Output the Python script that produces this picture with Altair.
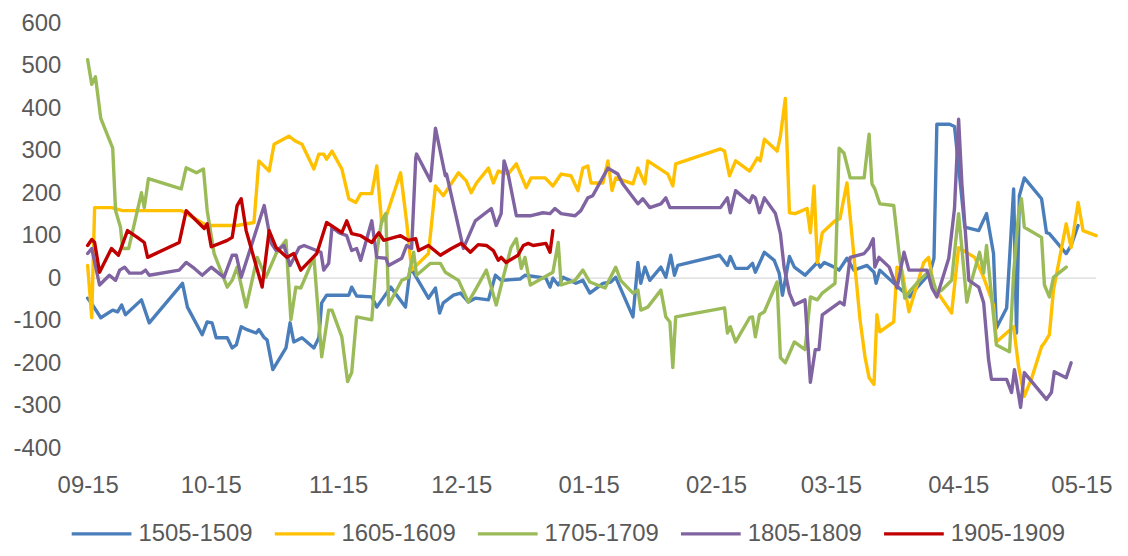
import altair as alt
import pandas as pd

SERIES = ["1505-1509", "1605-1609", "1705-1709", "1805-1809", "1905-1909"]
COLORS = ["#4a7ebb", "#ffc000", "#9bbb59", "#8064a2", "#c00000"]
WIDTHS = [3.4, 3.4, 3.4, 3.4, 5]
Y_TICKS = [-400, -300, -200, -100, 0, 100, 200, 300, 400, 500, 600]
X_TICK_MONTHS = [(2018, 9), (2018, 10), (2018, 11), (2018, 12), (2019, 1),
                 (2019, 2), (2019, 3), (2019, 4), (2019, 5)]

# (days after 09-15, value)
S1505 = [(0, -47), (1, -60), (3.2, -93), (6.1, -75), (7.3, -79), (8.3, -63), (9.2, -86),
         (13.1, -51), (15.0, -105), (23.1, -12), (24.3, -68), (27.9, -133), (29.1, -103),
         (30.3, -105), (31.3, -140), (34.0, -140), (35.2, -164), (36.2, -157), (37.4, -114),
         (38.8, -121), (41.0, -129), (41.7, -121), (43.0, -140), (43.7, -145), (45.1, -215),
         (48.3, -164), (49.3, -105), (50.2, -150), (52.2, -140), (55.1, -164), (56.3, -140),
         (57.0, -58), (58.2, -40), (63.6, -40), (64.3, -21), (65.5, -42), (69.2, -44),
         (70.4, -68), (73.8, -21), (77.4, -68), (78.6, 26), (83.0, -47), (84.7, -23),
         (85.7, -82), (86.6, -58), (89.1, -40), (90.8, -35), (92.7, -56), (94.4, -47),
         (97.6, -51), (99.3, 7), (100.7, -5), (105.3, -2), (106.5, 7), (111.6, 0),
         (112.6, -21), (113.3, 0), (114.6, -16), (115.8, 2), (118.9, -12), (120.6, -5),
         (122.3, -35), (125.5, -12), (127.4, -9), (128.6, 2), (132.8, -91), (134.0, 37),
         (134.7, -12), (135.7, 26), (136.9, -5), (139.6, 26), (140.8, 2), (142.0, 54),
         (142.9, 7), (143.7, 30), (153.9, 54), (155.8, 30), (156.5, 51), (157.8, 23),
         (160.7, 23), (161.9, 35), (162.6, 14), (164.8, 61), (167.2, 42), (168.4, 12),
         (169.2, -40), (170.9, 51), (172.1, 26), (174.7, 7), (177.7, 37), (178.4, 26),
         (179.4, 37), (181.8, 26), (183.0, 19), (184.9, 47), (186.6, 19), (189.8, 30),
         (191.5, 14), (192.0, -12), (192.9, 19), (197.6, -23), (200.2, -44), (201.9, -23),
         (205.1, 12), (206.1, 47), (206.8, 362), (209.9, 362), (211.1, 357), (213.6, 120),
         (217.0, 112), (218.9, 152), (220.6, 58), (221.3, -117), (223.8, -70), (225.5, 210),
         (226.2, -129), (226.9, 194), (228.1, 236), (232.3, 187), (233.5, 107), (234.2, 105),
         (238.3, 58), (239.5, 77), (241.2, 124)]

S1605 = [(0, 30), (1.0, -93), (1.7, 166), (5.8, 166), (8.5, 159), (22.8, 159), (27.7, 131),
         (29.1, 124), (36.4, 124), (40.5, 131), (41.7, 276), (44.2, 252), (45.4, 315),
         (49.0, 334), (50.7, 322), (52.2, 315), (55.1, 257), (56.3, 292), (57.5, 292),
         (58.2, 280), (59.5, 299), (61.9, 257), (63.6, 187), (65.3, 178), (66.5, 199),
         (69.2, 199), (70.4, 264), (71.6, 131), (72.6, 143), (76.2, 248), (77.7, 131),
         (78.9, 19), (83.0, 58), (84.7, 217), (86.6, 194), (90.3, 248), (92.2, 229),
         (93.4, 201), (94.7, 224), (97.6, 259), (98.8, 224), (100.0, 252), (102.4, 245),
         (104.4, 269), (106.8, 213), (108.0, 236), (111.4, 236), (113.3, 217), (115.3, 245),
         (117.7, 241), (119.4, 206), (120.6, 259), (121.8, 264), (122.6, 224), (125.5, 224),
         (126.7, 276), (127.7, 206), (128.6, 236), (132.8, 222), (134.0, 259), (135.7, 222),
         (136.4, 276), (141.3, 245), (142.5, 217), (143.2, 269), (154.1, 304), (155.1, 299),
         (156.3, 241), (157.8, 276), (161.2, 252), (163.1, 283), (163.8, 276), (164.8, 327),
         (167.9, 299), (168.7, 334), (169.9, 423), (170.9, 154), (172.3, 152), (175.2, 164),
         (176.0, 107), (176.9, 217), (177.7, 37), (178.9, 107), (182.0, 135), (183.2, 140),
         (184.9, 224), (188.1, -98), (189.3, -185), (190.3, -234), (191.5, -250), (192.2, -86),
         (192.9, -126), (196.3, -103), (197.1, 26), (198.3, 19), (200.0, -79), (203.6, 37),
         (204.8, 49), (206.1, -21), (210.4, -82), (212.1, 72), (216.0, 49), (218.2, 2),
         (220.6, -63), (221.3, -150), (225.5, -114), (226.7, -208), (228.1, -278),
         (229.8, -238), (232.3, -161), (233.0, -152), (234.2, -133), (235.2, -28),
         (238.3, 128), (239.5, 72), (241.2, 178), (242.4, 112), (245.6, 100)]

S1705 = [(0, 514), (1.0, 456), (1.9, 474), (3.2, 376), (6.1, 306), (6.8, 159), (8.0, 120),
         (8.5, 70), (10.0, 70), (13.1, 201), (13.8, 166), (14.8, 234), (22.8, 210), (24.0, 260),
         (26.5, 248), (28.2, 257), (29.1, 160), (30.8, 58), (34.0, -21), (35.2, -5), (36.4, 26),
         (38.6, -68), (41.3, 49), (43.4, 2), (45.9, 58), (48.3, 89), (49.5, -98), (50.7, -21),
         (51.9, -23), (55.1, 49), (57.0, -185), (58.7, -75), (59.5, -75), (61.9, -138),
         (63.3, -243), (64.3, -222), (65.5, -91), (69.2, -98), (70.4, 58), (71.6, 135),
         (72.6, 152), (73.3, -63), (76.5, -5), (78.1, 2), (79.4, 61), (80.1, 7), (83.5, 35),
         (85.9, 35), (87.1, 14), (90.3, -5), (92.7, -56), (94.4, -28), (97.1, 19), (99.5, -63),
         (101.2, 2), (103.1, 72), (104.4, 93), (105.6, 23), (106.5, 49), (107.8, -16),
         (113.3, 14), (114.6, 84), (115.3, -16), (118.7, -5), (120.6, 19), (122.3, -9),
         (126.0, -23), (128.6, 26), (129.8, -5), (132.8, -35), (134.0, -28), (134.7, -75),
         (136.4, -68), (139.6, -28), (140.8, -91), (141.8, -103), (142.5, -210), (143.2, -91),
         (155.1, -70), (155.8, -129), (156.5, -114), (157.8, -150), (161.2, -93), (161.9, -91),
         (162.6, -138), (163.6, -86), (164.8, -79), (167.9, -9), (168.7, -187), (169.9, -199),
         (172.1, -150), (174.7, -168), (176.0, -44), (177.7, -51), (178.9, -35), (182.0, -12),
         (183.0, 306), (184.2, 294), (185.7, 236), (189.1, 236), (190.3, 339), (191.0, 222),
         (191.7, 210), (192.9, 175), (196.3, 171), (197.6, 58), (199.0, -47), (200.0, -33),
         (201.9, -12), (205.1, 19), (206.8, -35), (208.0, -28), (210.4, -5), (212.1, 152),
         (214.1, -56), (215.3, -5), (217.2, 61), (218.2, 12), (218.9, 77), (221.3, -157),
         (224.5, -173), (225.5, 12), (226.7, 152), (227.4, 187), (228.1, 120), (232.3, 96),
         (233.0, -16), (234.2, -44), (235.2, 2), (238.3, 26)]

S1805 = [(0, 58), (1.0, 70), (2.9, -16), (5.3, 7), (6.8, -5), (7.8, 19), (9.0, 26), (10.2, 12),
         (13.1, 12), (14.1, 19), (15.0, 7), (22.3, 19), (24.0, 37), (26.0, 23), (27.9, 7),
         (30.1, 26), (33.2, 2), (35.2, 54), (36.2, 54), (37.4, 2), (40.5, 96), (43.0, 171),
         (44.7, 82), (45.9, 65), (47.8, 77), (49.3, 30), (50.2, 47), (51.5, 72), (52.7, 77),
         (56.8, 61), (57.5, 19), (58.7, 35), (59.5, 120), (61.2, 107), (63.1, 100), (64.3, 65),
         (65.5, 70), (66.5, 42), (69.2, 135), (70.4, 49), (72.6, 47), (73.3, 30), (76.5, 47),
         (77.7, 77), (78.9, 70), (79.9, 283), (80.1, 292), (83.5, 229), (84.7, 353), (87.1, 241),
         (87.4, 245), (91.5, 70), (94.4, 135), (98.3, 164), (99.5, 124), (100.7, 152),
         (101.4, 276), (102.4, 245), (104.4, 147), (108.0, 147), (110.9, 154), (112.6, 152),
         (113.8, 164), (115.3, 152), (118.7, 147), (120.1, 159), (121.8, 189), (123.0, 194),
         (126.7, 259), (128.6, 248), (129.1, 245), (130.3, 222), (134.0, 175), (135.2, 187),
         (136.9, 166), (139.6, 175), (140.8, 189), (141.8, 166), (154.1, 166), (155.8, 189),
         (156.5, 154), (157.8, 206), (161.2, 178), (161.9, 194), (162.6, 189), (163.6, 154),
         (164.8, 189), (167.5, 152), (168.7, 105), (169.6, 26), (170.9, -35), (172.1, -63),
         (174.7, -51), (176.0, -245), (177.2, -168), (178.1, -168), (178.9, -86), (183.2, -56),
         (184.2, -63), (185.7, 49), (189.1, 58), (190.3, 72), (191.3, 93), (191.7, 26),
         (192.7, 49), (195.2, 26), (197.1, -23), (198.8, 61), (200.0, 19), (204.4, 19),
         (205.6, -23), (206.8, -44), (209.7, 47), (211.1, 164), (212.1, 374), (212.9, 222),
         (214.6, -5), (217.0, -21), (218.2, -58), (219.4, -192), (220.1, -238), (223.8, -238),
         (225.0, -269), (225.7, -215), (227.2, -304), (228.1, -222), (233.5, -285),
         (234.7, -269), (235.4, -220), (238.3, -234), (239.5, -199)]

S1905 = [(0, 77), (1.0, 91), (1.7, 84), (2.9, 14), (5.8, 70), (7.5, 54), (9.7, 112), (12.1, 96),
         (13.8, 84), (14.6, 49), (22.3, 84), (24.0, 159), (26.5, 135), (28.4, 117), (29.1, 128),
         (30.1, 74), (34.0, 89), (35.2, 96), (36.4, 171), (37.4, 187), (38.6, 112), (42.5, -21),
         (44.2, 112), (45.9, 72), (48.5, 49), (50.2, 58), (51.9, 19), (55.8, 58), (58.2, 131),
         (61.2, 112), (61.9, 107), (63.1, 135), (64.3, 105), (66.5, 100), (69.2, 84),
         (70.9, 107), (72.1, 89), (76.2, 100), (78.1, 89), (79.9, 93), (80.6, 65), (83.0, 77),
         (85.9, 54), (88.6, 70), (91.0, 82), (93.2, 61), (95.1, 79), (97.1, 77), (98.8, 65),
         (100.0, 42), (100.7, 49), (101.9, 37), (104.8, 54), (106.1, 77), (107.3, 82),
         (108.5, 77), (111.6, 82), (112.6, 61), (113.3, 112)]

FONT = "Liberation Sans"
LABEL_COLOR = "#595959"
FS = 24

base = pd.Timestamp("2018-09-15")
rows = []
for name, pts in zip(SERIES, [S1505, S1605, S1705, S1805, S1905]):
    for i, (d, v) in enumerate(pts):
        t = base + pd.to_timedelta(d, unit="D")
        rows.append({"series": name, "date": t.strftime("%Y-%m-%dT%H:%M:%S"),
                     "value": v, "idx": i})
df = pd.DataFrame(rows)

x_scale = alt.Scale(domain=[alt.DateTime(year=2018, month=9, date=15),
                            alt.DateTime(year=2019, month=5, date=18, hours=14)])
y_scale = alt.Scale(domain=[-400, 600], nice=False, zero=False)

x_axis = alt.Axis(values=[alt.DateTime(year=y, month=m, date=15) for y, m in X_TICK_MONTHS],
                  format="%m-%d", title=None, grid=False, domain=False, ticks=False,
                  labelPadding=25, labelFontSize=FS, labelColor=LABEL_COLOR, labelFont=FONT,
                  labelFlush=False, labelOverlap=False)
y_axis = alt.Axis(values=Y_TICKS, title=None, grid=False, domain=False, ticks=False,
                  labelPadding=27, labelFontSize=FS, labelColor=LABEL_COLOR, labelFont=FONT,
                  labelExpr="toString(datum.value)")

zero = alt.Chart(pd.DataFrame({"v": [0]})).mark_rule(color="#d9d9d9", strokeWidth=1.2).encode(
    y=alt.Y("v:Q", scale=y_scale, axis=y_axis)
)

lines = alt.Chart(df).mark_line(strokeJoin="round", strokeCap="round").encode(
    x=alt.X("date:T", scale=x_scale, axis=x_axis),
    y=alt.Y("value:Q", scale=y_scale, axis=y_axis),
    color=alt.Color("series:N", scale=alt.Scale(domain=SERIES, range=COLORS),
                    sort=SERIES,
                    legend=alt.Legend(orient="none", legendX=-18, legendY=481, padding=0,
                                      direction="horizontal", title=None,
                                      symbolType="stroke", symbolSize=3600,
                                      symbolStrokeWidth=4, labelFontSize=FS,
                                      labelColor=LABEL_COLOR, labelFont=FONT,
                                      labelOffset=5, columnPadding=15)),
    strokeWidth=alt.StrokeWidth("series:N", scale=alt.Scale(domain=SERIES, range=WIDTHS),
                                legend=None),
    order=alt.Order("idx:Q"),
)

chart = alt.layer(zero, lines).properties(
    width=1013, height=427,
    padding={"left": 80, "top": 14, "right": 24, "bottom": 99},
    autosize=alt.AutoSizeParams(type="none"),
).configure_view(stroke=None)

chart.save("out.html", embed_options={"renderer": "svg", "actions": False})
